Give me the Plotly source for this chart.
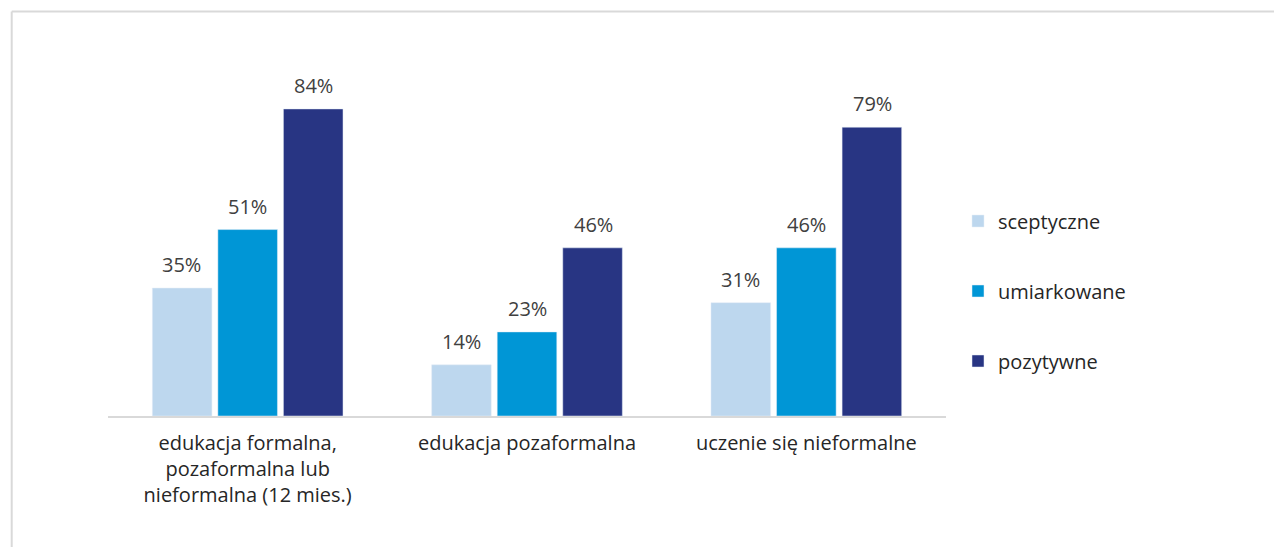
"""Postawy wobec uczenia się: udział osób uczących się wg typu postawy."""

import plotly.graph_objects as go

CATEGORIES = [
    "edukacja formalna,<br>pozaformalna lub<br>nieformalna (12 mies.)",
    "edukacja pozaformalna",
    "uczenie się nieformalne",
]
SERIES = ["sceptyczne", "umiarkowane", "pozytywne"]
VALUES = {
    "sceptyczne": [35, 14, 31],
    "umiarkowane": [51, 23, 46],
    "pozytywne": [84, 46, 79],
}
COLORS = {
    "sceptyczne": "#BDD7EE",
    "umiarkowane": "#0096D6",
    "pozytywne": "#283583",
}

FONT = "Open Sans"
TEXT_COLOR = "#262626"
GRID_COLOR = "#D9D9D9"

# body strony ma 8 px marginesu, figura zaczyna się w (8, 8) i dochodzi do krawędzi okna
W, H = 1274, 539

fig = go.Figure()
for i, name in enumerate(SERIES):
    fig.add_trace(go.Bar(
        x=CATEGORIES, y=VALUES[name], name=name,
        marker_color=COLORS[name], legendgroup=name,
        hovertemplate="%{x}<br>" + name + ": %{y}%<extra></extra>",
    ))
    # etykiety danych nad słupkami
    for cat, val in zip(CATEGORIES, VALUES[name]):
        fig.add_annotation(
            x=cat, y=val, text=f"{val}%", showarrow=False,
            xshift=(i - 1) * 66, yshift=8, yanchor="bottom",
            font=dict(family=FONT, size=20, color="#404040"),
        )

# ramka wykresu (lewa i górna krawędź)
fig.add_shape(type="line", xref="paper", yref="paper",
              x0=-0.1149, x1=1.4, y0=1.2295, y1=1.2295,
              line=dict(color=GRID_COLOR, width=2))
fig.add_shape(type="line", xref="paper", yref="paper",
              x0=-0.1149, x1=-0.1149, y0=1.2295, y1=-0.45,
              line=dict(color=GRID_COLOR, width=2))

fig.update_layout(
    width=W, height=H,
    margin=dict(l=100, r=330, t=79, b=131),
    paper_bgcolor="white", plot_bgcolor="white",
    barmode="group", bargap=0.296, bargroupgap=0.091,
    font=dict(family=FONT, size=20, color=TEXT_COLOR),
    showlegend=True,
    legend=dict(
        xref="container", yref="container",
        x=950 / W, y=1 - 283 / H, xanchor="left", yanchor="middle",
        font=dict(family=FONT, size=20, color=TEXT_COLOR),
        tracegroupgap=41, itemwidth=30,
    ),
    xaxis=dict(
        showline=True, linecolor=GRID_COLOR, linewidth=2,
        showgrid=False, ticks="", tickfont=dict(size=20),
        ticklabelstandoff=8,
    ),
    yaxis=dict(
        range=[0, 90], showgrid=False, showticklabels=False,
        zeroline=False, showline=False,
    ),
)

fig.write_html("out.html")
